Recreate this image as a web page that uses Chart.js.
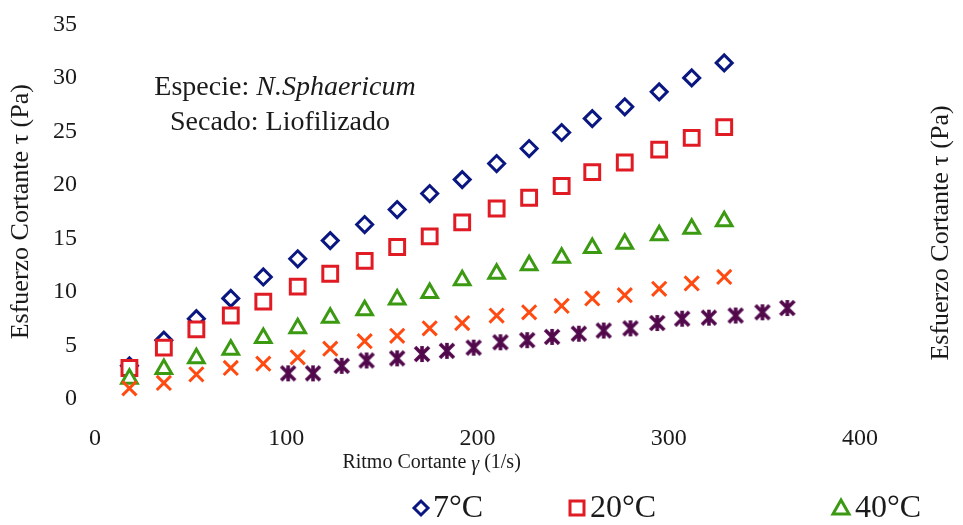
<!DOCTYPE html>
<html>
<head>
<meta charset="utf-8">
<title>Esfuerzo cortante vs ritmo cortante</title>
<script src="https://cdn.jsdelivr.net/npm/chart.js@4.4.1/dist/chart.umd.min.js"></script>
<style>
  html, body { margin: 0; padding: 0; background: #fff; }
  #wrap { width: 963px; height: 525px; }
</style>
</head>
<body>
<div id="wrap"><canvas id="chart"></canvas></div>
<script>
// shear rate (1/s) for 7, 20, 40 and 60 °C runs
const rateA = [18, 36, 53, 71, 88, 106, 123, 141, 158, 175, 192, 210, 227, 244, 260, 277, 295, 312, 329];
// shear rate (1/s) for the 80 °C run
const rateB = [101, 114, 129, 142, 158, 171, 184, 198, 212, 226, 239, 253, 266, 280, 294, 307, 321, 335, 349, 362];

// shear stress (Pa)
const stress7  = [3.1, 5.5, 7.5, 9.4, 11.4, 13.1, 14.8, 16.3, 17.7, 19.2, 20.5, 22.0, 23.4, 24.9, 26.2, 27.3, 28.7, 30.0, 31.4];
const stress20 = [2.9, 4.8, 6.5, 7.8, 9.1, 10.5, 11.7, 12.9, 14.2, 15.2, 16.5, 17.8, 18.8, 19.9, 21.2, 22.1, 23.3, 24.4, 25.4];
const stress40 = [1.9, 2.8, 3.8, 4.6, 5.7, 6.6, 7.6, 8.3, 9.3, 9.9, 11.1, 11.7, 12.5, 13.2, 14.1, 14.5, 15.3, 15.9, 16.6];
const stress60 = [1.0, 1.5, 2.3, 2.9, 3.3, 3.9, 4.7, 5.4, 5.9, 6.6, 7.1, 7.8, 8.1, 8.7, 9.4, 9.7, 10.3, 10.8, 11.4];
const stress80 = [2.4, 2.4, 3.1, 3.6, 3.8, 4.2, 4.5, 4.8, 5.3, 5.5, 5.8, 6.1, 6.4, 6.6, 7.1, 7.5, 7.6, 7.8, 8.1, 8.5];

const seriesNames = ['7°C', '20°C', '40°C', '60°C', '80°C'];
const xTicks = [0, 100, 200, 300, 400];
const yTicks = [0, 5, 10, 15, 20, 25, 30, 35];

const serif = "'Liberation Serif', 'Times New Roman', serif";
const ink = '#1a1a1a';

function pairs(xs, ys) {
  return xs.map((v, i) => ({ x: v, y: ys[i] }));
}

// asterisk marker (X with a vertical bar)
function starMarker(color) {
  const c = document.createElement('canvas');
  c.width = 22; c.height = 22;
  const g = c.getContext('2d');
  g.strokeStyle = color;
  g.lineWidth = 3.6;
  g.beginPath();
  g.moveTo(4, 4); g.lineTo(18, 18);
  g.moveTo(18, 4); g.lineTo(4, 18);
  g.moveTo(11, 3); g.lineTo(11, 19);
  g.stroke();
  return c;
}

const colors = ['#0b1780', '#e01b24', '#3b9a12', '#ff4a12', '#52094c'];

// caption, x title, neighbour panel title and legend
const notes = {
  id: 'notes',
  afterDraw(chart) {
    const { ctx, scales: { x } } = chart;
    ctx.save();
    ctx.fillStyle = ink;
    ctx.textBaseline = 'middle';

    // caption
    const cap = '28px ' + serif, capIt = 'italic 28px ' + serif;
    const a = 'Especie: ', b = 'N.Sphaericum';
    ctx.font = cap;
    const wa = ctx.measureText(a).width;
    ctx.font = capIt;
    const wb = ctx.measureText(b).width;
    const sx = 285 - (wa + wb) / 2;
    ctx.textAlign = 'left';
    ctx.font = cap;
    ctx.fillText(a, sx, 88);
    ctx.font = capIt;
    ctx.fillText(b, sx + wa, 88);
    ctx.font = cap;
    ctx.textAlign = 'center';
    ctx.fillText('Secado: Liofilizado', 280, 123);

    // x axis title
    const tf = '20px ' + serif, tfIt = 'italic 20px ' + serif;
    const t1 = 'Ritmo Cortante ', t2 = 'γ', t3 = ' (1/s)';
    ctx.font = tf;
    const w1 = ctx.measureText(t1).width, w3 = ctx.measureText(t3).width;
    ctx.font = tfIt;
    const w2 = ctx.measureText(t2).width;
    const tx = x.getPixelForValue(176) - (w1 + w2 + w3) / 2;
    ctx.textAlign = 'left';
    ctx.font = tf;
    ctx.fillText(t1, tx, 463);
    ctx.font = tfIt;
    ctx.fillText(t2, tx + w1, 465);
    ctx.font = tf;
    ctx.fillText(t3, tx + w1 + w2, 463);

    // y title of the neighbouring panel
    ctx.save();
    ctx.translate(941, 233);
    ctx.rotate(-Math.PI / 2);
    ctx.textAlign = 'center';
    ctx.font = '26px ' + serif;
    ctx.fillText('Esfuerzo Cortante τ (Pa)', 0, 0);
    ctx.restore();

    // legend
    const items = [
      { mx: 421, tx: 433, shape: 'diamond' },
      { mx: 577, tx: 590, shape: 'square' },
      { mx: 841, tx: 855, shape: 'triangle' }
    ];
    const ly = 508;
    ctx.lineWidth = 3;
    items.forEach((it, i) => {
      ctx.strokeStyle = colors[i];
      ctx.beginPath();
      if (it.shape === 'diamond') {
        ctx.moveTo(it.mx - 7, ly); ctx.lineTo(it.mx, ly - 7);
        ctx.lineTo(it.mx + 7, ly); ctx.lineTo(it.mx, ly + 7);
      } else if (it.shape === 'square') {
        ctx.rect(it.mx - 7, ly - 7, 14, 14);
      } else {
        ctx.moveTo(it.mx, ly - 8); ctx.lineTo(it.mx + 8, ly + 6); ctx.lineTo(it.mx - 8, ly + 6);
      }
      ctx.closePath();
      ctx.stroke();
      ctx.fillStyle = ink;
      ctx.font = '32px ' + serif;
      ctx.textAlign = 'left';
      ctx.fillText(seriesNames[i], it.tx, ly + 1);
    });
    ctx.restore();
  }
};

const pointStyles = ['rectRot', 'rect', 'triangle', 'crossRot', starMarker(colors[4])];
const radii = [8, 10.5, 9, 10, 11];
const stresses = [stress7, stress20, stress40, stress60, stress80];

const datasets = stresses.map((s, i) => ({
  label: seriesNames[i],
  data: pairs(i === 4 ? rateB : rateA, s),
  pointStyle: pointStyles[i],
  pointRadius: radii[i],
  pointHoverRadius: radii[i],
  pointBorderWidth: 3,
  borderColor: colors[i],
  backgroundColor: '#ffffff',
  showLine: false,
  order: 5 - i
}));

new Chart(document.getElementById('chart'), {
  type: 'scatter',
  data: { datasets },
  options: {
    responsive: true,
    maintainAspectRatio: false,
    animation: false,
    layout: { padding: { top: 22, right: 103, left: 0, bottom: 0 } },
    plugins: {
      legend: { display: false },
      tooltip: { enabled: false }
    },
    scales: {
      x: {
        type: 'linear',
        min: 0,
        max: 400,
        grid: { display: false },
        border: { display: false },
        afterBuildTicks: (s) => { s.ticks = xTicks.map(v => ({ value: v })); },
        afterFit: (s) => { s.height = 126; },
        ticks: {
          color: ink,
          padding: 17,
          maxRotation: 0,
          font: { family: serif, size: 24 }
        }
      },
      y: {
        min: 0,
        max: 35,
        grid: { display: false },
        border: { display: false },
        afterBuildTicks: (s) => { s.ticks = yTicks.map(v => ({ value: v })); },
        afterFit: (s) => { s.width = 95; },
        ticks: {
          color: ink,
          padding: 10,
          font: { family: serif, size: 24 }
        },
        title: {
          display: true,
          text: 'Esfuerzo Cortante τ (Pa)',
          color: ink,
          padding: { top: 6, bottom: 0 },
          font: { family: serif, size: 26 }
        }
      }
    }
  },
  plugins: [notes]
});
</script>
</body>
</html>
